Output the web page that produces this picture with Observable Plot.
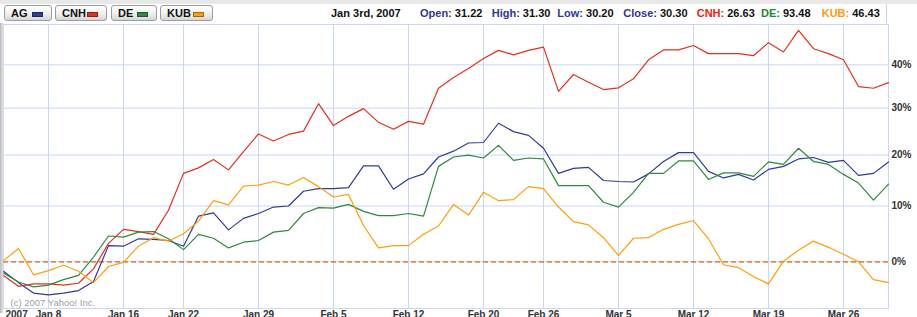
<!DOCTYPE html>
<html>
<head>
<meta charset="utf-8">
<script src="https://cdn.jsdelivr.net/npm/d3@7"></script>
<script src="https://cdn.jsdelivr.net/npm/@observablehq/plot@0.6"></script>
<style>
  html, body { margin: 0; padding: 0; background: #fff; overflow: hidden; }
  #wrap { position: relative; width: 917px; height: 317px; font-family: "Liberation Sans", Arial, sans-serif; }
  #topbar { position: absolute; left: 0; top: 0; width: 917px; height: 4px; background: #e8e8e8; }
  #hdr { position: absolute; left: 0; top: 0; width: 917px; height: 23px; }
  .btn { position: absolute; top: 5px; height: 14px; border: 1px solid #9c9c9c; border-radius: 3px;
         background: linear-gradient(#ffffff, #f2f2f2 50%, #d6d6d6); box-sizing: content-box; }
  .btn span.t { position: absolute; left: 6px; top: 1px; font-size: 11px; font-weight: bold; color: #111; line-height: 12px; }
  .btn span.s { position: absolute; top: 6px; width: 9px; height: 3px; border: 1px solid rgba(0,0,0,0.35); }
  .hv { position: absolute; top: 7px; font-size: 11px; font-weight: bold; line-height: 12px; white-space: nowrap; color: #111; }
  #hdrRight { position: absolute; left: 886px; top: 4px; width: 1px; height: 19px; background: #c8d3ea; }
  #shadow { position: absolute; left: 0; top: 23px; width: 4px; height: 290px; background: linear-gradient(90deg, #b9b9b9, #dcdcdc 60%, rgba(255,255,255,0)); }
  #chart { position: absolute; left: 0; top: 23px; }
</style>
</head>
<body>
<div id="wrap">
  <div id="topbar"></div>
  <div id="hdr"></div>
  <div id="hdrRight"></div>
  <div id="chart"></div>
  <div id="shadow"></div>
</div>
<script>
// ---- data ----
const dates = [
  "Jan 3","Jan 4","Jan 5","Jan 8","Jan 9","Jan 10","Jan 11","Jan 12","Jan 16","Jan 17",
  "Jan 18","Jan 19","Jan 22","Jan 23","Jan 24","Jan 25","Jan 26","Jan 29","Jan 30","Jan 31",
  "Feb 1","Feb 2","Feb 5","Feb 6","Feb 7","Feb 8","Feb 9","Feb 12","Feb 13","Feb 14",
  "Feb 15","Feb 16","Feb 20","Feb 21","Feb 22","Feb 23","Feb 26","Feb 27","Feb 28","Mar 1",
  "Mar 2","Mar 5","Mar 6","Mar 7","Mar 8","Mar 9","Mar 12","Mar 13","Mar 14","Mar 15",
  "Mar 16","Mar 19","Mar 20","Mar 21","Mar 22","Mar 23","Mar 26","Mar 27","Mar 28","Mar 29"
];
const seriesNames = ["AG", "CNH", "DE", "KUB"];
const seriesColors = ["#2f3c98", "#e2311f", "#2e8a3f", "#ff9e0d"];
const agPct = [
  -1.6,-3.5,-5.2,-5.5,-5.2,-4.8,-3.3,2.8,2.7,4.0,
  3.9,3.7,2.7,8.1,8.7,5.6,7.7,8.6,9.8,10.0,
  12.8,13.3,13.3,13.5,17.8,17.8,13.2,15.2,16.2,19.6,
  20.8,22.5,22.6,26.7,24.9,24.1,21.4,16.3,17.3,17.5,
  14.9,14.7,14.6,16.2,18.7,20.5,20.5,16.7,15.4,16.1,
  15.0,17.1,17.7,19.2,19.5,18.5,18.9,15.9,16.3,18.6
];
const cnhPct = [
  -2.3,-4.1,-3.7,-3.7,-3.9,-3.6,-1.2,3.2,5.7,5.3,
  4.8,9.2,16.3,17.4,19.1,17.0,20.7,24.4,22.9,24.3,
  25.0,31.0,26.2,28.2,29.9,26.9,25.4,27.1,26.5,34.5,
  37.0,39.1,41.5,43.5,42.4,43.5,44.3,33.8,37.7,35.9,
  34.2,34.6,36.7,41.2,43.6,43.6,44.7,42.7,42.7,42.7,
  42.2,45.4,43.1,48.5,43.9,42.7,41.2,34.9,34.5,35.8
];
const dePct = [
  -1.9,-3.4,-4.2,-3.9,-3.0,-2.3,0.8,4.5,4.3,5.2,
  5.3,4.0,2.1,4.8,4.1,2.4,3.4,3.7,5.2,5.5,
  8.6,9.7,9.6,10.3,9.0,8.2,8.2,8.6,8.1,17.7,
  19.6,20.0,19.4,22.0,18.9,19.4,19.2,13.9,13.9,13.9,
  10.7,9.8,12.6,16.3,16.3,18.8,18.8,15.1,16.4,16.4,
  15.7,18.6,18.1,21.4,18.7,18.1,16.1,14.4,11.1,14.2
];
const kubPct = [
  0.2,2.3,-2.2,-1.5,-0.6,-1.6,-3.5,-0.8,-0.1,2.7,
  4.2,3.6,4.9,7.2,11.0,10.2,13.8,14.0,14.7,14.0,
  15.5,13.7,11.7,12.2,6.4,2.4,2.8,2.8,4.8,6.3,
  10.3,8.3,12.6,11.0,11.2,13.7,13.3,9.8,7.1,6.5,
  4.2,1.1,4.1,4.2,5.7,6.6,7.3,4.0,-0.5,-1.0,
  -2.5,-3.7,0.1,2.0,3.6,2.5,1.3,0.0,-3.0,-3.5
];
const tickDates = ["Jan 8","Jan 16","Jan 22","Jan 29","Feb 5","Feb 12","Feb 20","Feb 26","Mar 5","Mar 12","Mar 19","Mar 26"];
const yearLabel = "2007";
const yTickPct = [0, 10, 20, 30, 40];
const yDomainPct = [-7.67, 49.98];
const headerDate = "Jan 3rd, 2007";
const headerItems = [
  {label: "Open:", value: "31.22", color: "#333399"},
  {label: "High:", value: "31.30", color: "#333399"},
  {label: "Low:", value: "30.20", color: "#333399"},
  {label: "Close:", value: "30.30", color: "#333399"},
  {label: "CNH:", value: "26.63", color: "#ee2211"},
  {label: "DE:", value: "93.48", color: "#228833"},
  {label: "KUB:", value: "46.43", color: "#ff9911"}
];
const copyright = "(c) 2007 Yahoo! Inc.";

// ---- header (legend buttons + quote line) ----
const hdr = document.getElementById("hdr");
const btnLayout = [[4, 46], [55, 50], [111, 44], [160, 51]];
seriesNames.forEach((n, k) => {
  const b = document.createElement("div");
  b.className = "btn";
  b.style.left = btnLayout[k][0] + "px";
  b.style.width = btnLayout[k][1] + "px";
  const t = document.createElement("span");
  t.className = "t"; t.textContent = n;
  const s = document.createElement("span");
  s.className = "s"; s.style.background = seriesColors[k];
  s.style.left = (btnLayout[k][1] - 19) + "px";
  b.appendChild(t); b.appendChild(s);
  hdr.appendChild(b);
});
const hdrX = [420, 491.7, 557.3, 623.3, 696.7, 761, 821.7];
const dEl = document.createElement("div");
dEl.className = "hv"; dEl.style.left = "331px"; dEl.textContent = headerDate;
hdr.appendChild(dEl);
headerItems.forEach((it, k) => {
  const e = document.createElement("div");
  e.className = "hv"; e.style.left = hdrX[k] + "px";
  const l = document.createElement("span");
  l.style.color = it.color; l.textContent = it.label + " ";
  const v = document.createElement("span");
  v.textContent = it.value;
  e.appendChild(l); e.appendChild(v);
  hdr.appendChild(e);
});

// ---- chart ----
const allPct = [agPct, cnhPct, dePct, kubPct];
const rows = seriesNames.flatMap((s, k) => allPct[k].map((v, i) => ({s, i, r: 1 + v / 100})));
const tickIdx = tickDates.map(d => dates.indexOf(d));
const gridColor = "#c9d6f4";
const yTicks = yTickPct.map(v => 1 + v / 100);

const chart = Plot.plot({
  width: 917,
  height: 294,
  marginTop: 1,
  marginBottom: 9,
  marginLeft: 3,
  marginRight: 29,
  style: {fontFamily: "'Liberation Sans', Arial, sans-serif", fontSize: "10px", fontWeight: "bold", color: "#333", background: "transparent"},
  x: {domain: [0, dates.length - 1]},
  y: {type: "log", domain: yDomainPct.map(v => 1 + v / 100)},
  color: {domain: seriesNames, range: seriesColors},
  marks: [
    Plot.gridX(tickIdx, {stroke: gridColor, strokeOpacity: 1}),
    Plot.gridY(yTicks, {stroke: gridColor, strokeOpacity: 1}),
    Plot.frame({stroke: gridColor}),
    Plot.ruleY([1], {stroke: "#e2621c", strokeDasharray: "5,3", strokeWidth: 1.2}),
    Plot.text([copyright], {frameAnchor: "bottom-left", dx: 7, dy: -3, fill: "#a0a0a0", fontWeight: "normal", fontSize: 9.5, textAnchor: "start"}),
    Plot.line(rows, {x: "i", y: "r", z: "s", stroke: "s", strokeWidth: 1.2}),
    Plot.axisX(tickIdx, {anchor: "bottom", tickSize: 0, tickPadding: 2, tickFormat: i => dates[i], label: null, fill: "#333"}),
    Plot.text([yearLabel], {x: 0, y: 1 + yDomainPct[0] / 100, dy: 2, dx: 2, lineAnchor: "top", textAnchor: "start", fill: "#333"}),
    Plot.axisY(yTicks, {anchor: "right", tickSize: 0, tickPadding: 3, tickFormat: v => Math.round((v - 1) * 100) + "%", label: null, fill: "#333"})
  ]
});
document.getElementById("chart").appendChild(chart);
</script>
</body>
</html>
